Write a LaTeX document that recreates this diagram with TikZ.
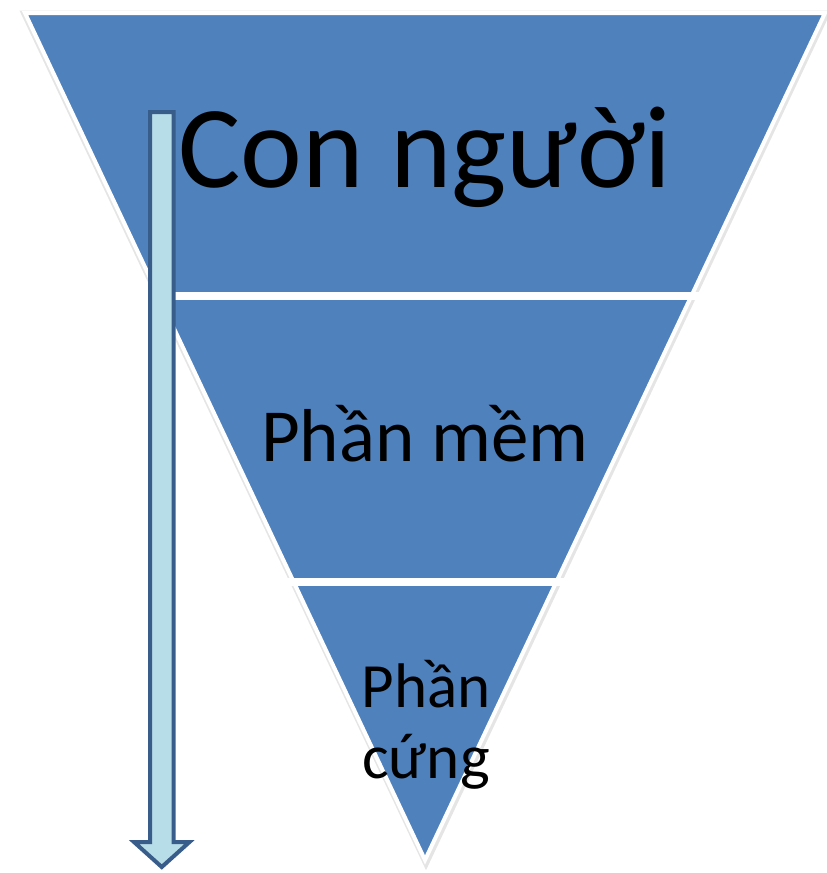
\documentclass[tikz,border=0pt]{standalone}
\usepackage{fontspec}
\setmainfont{Carlito}
\definecolor{bandblue}{HTML}{4F81BD}
\definecolor{arrowfill}{HTML}{B7DDE8}
\definecolor{arrowline}{HTML}{385D8A}
\tikzset{
  shadowedge/.style={draw=black!10, line width=7pt, line join=miter},
  band/.style={fill=bandblue, draw=white, line width=4pt, line join=miter},
  gap/.style={draw=white, line width=8pt},
  lbl/.style={anchor=base, text=black, inner sep=0pt, align=center},
  blockarrow/.style={fill=arrowfill, draw=arrowline, line width=4pt, line join=miter}
}
\begin{document}
\begin{tikzpicture}[x=1pt,y=-1pt]
\useasboundingbox (0,0) rectangle (827,873);
% inverted pyramid
\path[shadowedge] (25,14) -- (826,14) -- (426,862) -- cycle;
\path[band] (25,13) -- (825,13) -- (425,860) -- cycle;
\coordinate (g1l) at (140,296);
\coordinate (g1r) at (710,296);
\coordinate (g2l) at (270,582);
\coordinate (g2r) at (580,582);
\draw[gap] (g1l) -- (g1r);
\draw[gap] (g2l) -- (g2r);
% down arrow
\path[blockarrow] (150,112) -- (173.5,112) -- (173.5,842) -- (189.5,842) -- (161.75,867) -- (134,842) -- (150,842) -- cycle;
% labels
\node[lbl, font=\fontsize{117}{140}\selectfont] (top) at (425,187) {Con người};
\node[lbl, font=\fontsize{75}{90}\selectfont] (mid) at (425,461) {Phần mềm};
\node[lbl, font=\fontsize{63}{71}\selectfont, anchor=north] (bot) at (426,660) {Phần\\cứng};
\end{tikzpicture}
\end{document}
